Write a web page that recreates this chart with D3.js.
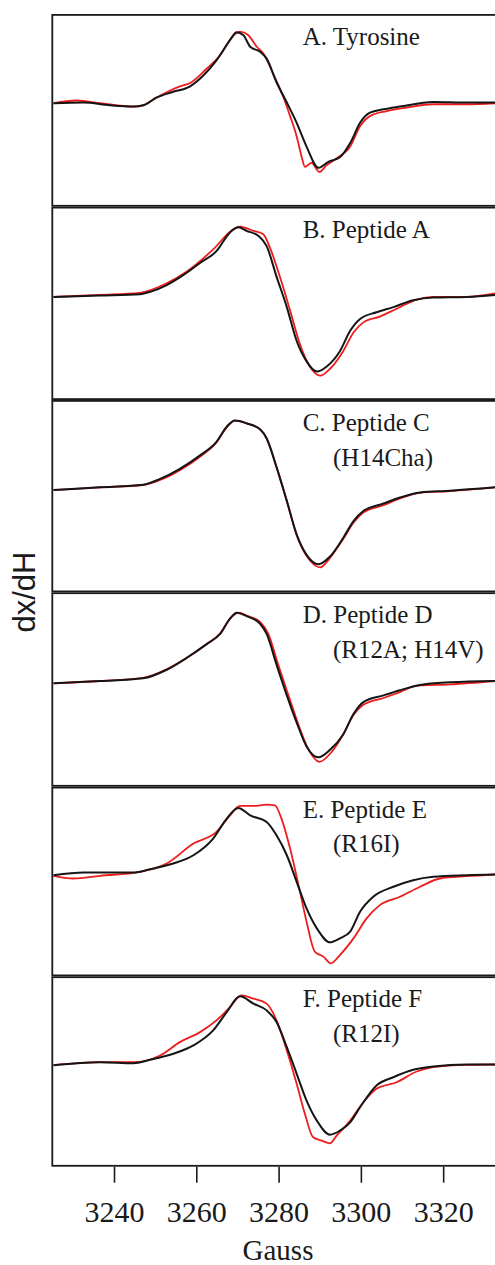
<!DOCTYPE html>
<html><head><meta charset="utf-8">
<script src="https://cdn.jsdelivr.net/npm/d3@7"></script>
<style>body{margin:0;background:#fff}</style>
</head><body><svg id="c" width="495" height="1265"></svg>
<script>
// ---- data ----
const xTicks = [3240, 3260, 3280, 3300, 3320];
const panelTitles = ["A. Tyrosine", "B. Peptide A", "C. Peptide C", "D. Peptide D", "E. Peptide E", "F. Peptide F"];
const panelSubtitles = ["", "", "(H14Cha)", "(R12A; H14V)", "(R16I)", "(R12I)"];
const xLabel = "Gauss";
const yLabel = "dx/dH";

// [Gauss, signal (a.u.)]
const tyrosineBlack = [[3225.3,0],[3232.6,0.7],[3239.0,-2],[3244.7,-3.3],[3247.1,-2],[3250.4,5.7],[3254.4,11.3],[3258.5,16.7],[3261.7,27.3],[3264.9,42.3],[3268.2,62.3],[3269.8,70],[3271.4,67.3],[3273.1,55.7],[3275.5,50.7],[3277.1,44],[3279.5,20.7],[3282.0,0.7],[3284.4,-19.3],[3286.8,-42.7],[3289.7,-63.7],[3292.1,-57.7],[3294.9,-53.3],[3297.4,-39.3],[3299.8,-19.3],[3302.2,-9.3],[3305.5,-6],[3309.5,-3.3],[3317.6,1.3],[3325.7,0.7],[3332.6,0.7]];
const tyrosineRed = [[3225.3,0],[3230.9,2.7],[3236.6,0],[3244.7,-3.3],[3247.1,-2],[3250.4,5.7],[3256.0,16.7],[3258.5,20],[3262.5,34],[3265.8,47.3],[3269.0,66.7],[3270.6,70.7],[3272.6,67.3],[3274.7,55.7],[3276.3,49],[3278.7,29],[3281.2,5.7],[3282.8,-12.7],[3284.4,-32.7],[3285.6,-52.7],[3286.4,-62.7],[3288.0,-58.7],[3289.9,-67.7],[3291.7,-61],[3294.1,-54.3],[3297.4,-42.7],[3299.8,-22.7],[3302.2,-12.7],[3306.3,-7.7],[3311.1,-4.3],[3317.6,-1],[3325.7,-1],[3332.6,0]];
const peptideABlack = [[3225.3,-0.7],[3236.6,0.7],[3246.3,2],[3248.8,4.3],[3252.8,11],[3256.9,21],[3260.9,32.7],[3264.9,44.3],[3268.2,62.7],[3270.2,67.7],[3272.2,64.3],[3275.1,59.3],[3277.1,49.3],[3279.5,19.3],[3282.0,-10.7],[3284.4,-44],[3286.8,-64],[3289.3,-74],[3291.7,-69],[3294.9,-54],[3297.4,-34],[3299.8,-22.3],[3303.8,-15.7],[3307.9,-10.7],[3312.7,-4],[3317.6,-1.3],[3325.7,-0.7],[3332.6,1.3]];
const peptideARed = [[3225.3,-0.7],[3236.6,1.3],[3246.3,3.3],[3252.8,12.7],[3257.7,24.3],[3264.1,46],[3269.0,65.7],[3270.6,68.3],[3273.9,64.3],[3276.3,61],[3277.9,47.7],[3280.3,19.3],[3282.8,-14],[3285.2,-47.3],[3287.6,-69],[3290.1,-78],[3292.5,-71.3],[3295.7,-54],[3298.2,-35.7],[3300.6,-25.7],[3304.6,-20],[3308.7,-12.3],[3313.6,-3.3],[3317.6,-0.7],[3325.7,-0.7],[3332.6,2.7]];
const peptideCBlack = [[3225.3,-1],[3236.6,1.7],[3247.1,4.3],[3251.2,10],[3256.0,20],[3260.9,33.3],[3264.9,46.7],[3267.4,61.7],[3269.4,67.7],[3272.2,65],[3275.5,59],[3277.1,50],[3279.5,21.7],[3282.0,-11.7],[3284.4,-45],[3286.8,-65],[3289.7,-74.3],[3292.5,-66.7],[3295.7,-48.3],[3298.2,-31.7],[3300.6,-21.7],[3305.5,-14.3],[3309.5,-8.3],[3314.4,-3.3],[3321.7,-1.7],[3332.6,1.7]];
const peptideCRed = [[3225.3,-1],[3236.6,1.7],[3247.1,4],[3251.2,9],[3256.0,18.7],[3260.9,32],[3264.9,46],[3267.4,61],[3269.4,67.7],[3272.2,65],[3275.5,59],[3277.1,50],[3279.5,21.7],[3282.0,-11.7],[3284.4,-45.5],[3286.8,-66],[3290.1,-77.3],[3292.5,-68],[3295.7,-49.3],[3298.2,-33.3],[3300.6,-23.3],[3305.5,-16],[3309.5,-9.3],[3314.4,-3.7],[3321.7,-2],[3332.6,1.7]];
const peptideDBlack = [[3225.3,-1],[3236.6,1.3],[3247.1,4],[3252.8,12.3],[3257.7,24],[3262.5,37.3],[3265.8,47.3],[3268.2,62.3],[3269.8,68],[3272.2,64.7],[3275.5,57.3],[3277.1,47.3],[3279.5,17.3],[3282.0,-12.7],[3284.4,-39.3],[3286.8,-62.7],[3289.7,-73.3],[3292.5,-66],[3295.7,-51],[3298.2,-31],[3300.6,-19.3],[3305.5,-12.7],[3309.5,-7.7],[3314.4,-2.7],[3321.7,0],[3332.6,1.3]];
const peptideDRed = [[3225.3,-1],[3236.6,1.3],[3247.1,4.3],[3252.8,12.7],[3257.7,24],[3262.5,37.3],[3265.8,48],[3268.2,62.3],[3270.2,68],[3272.6,64.7],[3275.5,59],[3277.5,47.3],[3279.9,17.3],[3282.4,-12.7],[3284.8,-41],[3287.2,-65],[3289.9,-77.7],[3292.9,-68],[3295.7,-51],[3298.2,-32],[3300.6,-22],[3305.5,-15.3],[3309.5,-9.5],[3313.6,-3.3],[3321.7,-2],[3332.6,1.3]];
const peptideEBlack = [[3225.3,-0.7],[3232.6,2],[3244.7,2],[3248.8,5.3],[3254.4,11],[3259.3,19.3],[3264.1,36],[3267.4,56],[3270.2,66.7],[3273.1,59.3],[3277.1,52.7],[3279.5,39.3],[3282.0,19.3],[3284.4,-7.3],[3286.8,-34],[3289.3,-54],[3292.5,-68],[3294.9,-64],[3297.4,-57.3],[3299.8,-37.3],[3303.0,-22.3],[3307.9,-12.3],[3312.7,-5.7],[3317.6,-2.3],[3325.7,-0.7],[3332.6,0]];
const peptideERed = [[3225.3,-1.3],[3230.1,-4],[3236.6,-1.3],[3246.3,2.7],[3252.8,11],[3259.3,31],[3264.9,42.7],[3268.2,59.3],[3270.6,68.7],[3273.9,68.7],[3277.1,70],[3279.1,69.3],[3280.7,56],[3282.8,26],[3285.2,-17.3],[3286.8,-47.3],[3288.8,-77.3],[3290.9,-82.3],[3292.7,-89],[3294.9,-80.7],[3298.2,-64],[3301.4,-44],[3304.6,-30.7],[3309.5,-22.3],[3314.4,-12.3],[3319.2,-4],[3325.7,-1.7],[3332.6,0]];
const peptideFBlack = [[3225.3,-0.7],[3236.6,2.3],[3244.7,1.3],[3248.8,4.7],[3254.4,10.7],[3259.3,19],[3264.1,34],[3267.4,52.3],[3270.6,68],[3273.9,60.7],[3277.1,54],[3279.5,42.3],[3282.0,17.3],[3284.4,-9.3],[3286.8,-36],[3289.3,-56],[3292.5,-70],[3294.9,-66],[3297.4,-57.7],[3299.8,-42.7],[3303.8,-21],[3307.9,-12.7],[3312.7,-5.3],[3317.6,-2],[3325.7,0],[3332.6,0]];
const peptideFRed = [[3225.3,-0.7],[3236.6,2.3],[3244.7,2.3],[3251.2,9],[3256.0,22.3],[3260.9,32.3],[3264.9,44],[3268.2,57.3],[3271.0,69],[3273.9,65.7],[3277.1,60.7],[3279.5,44],[3282.0,14],[3284.4,-19.3],[3286.4,-49.3],[3288.4,-72.7],[3290.5,-76],[3292.5,-78.7],[3294.1,-71],[3297.4,-56],[3300.6,-37.7],[3303.8,-24.3],[3308.7,-17.7],[3313.6,-7],[3317.6,-2.7],[3325.7,-0.3],[3332.6,0]];

const blackSeries = [tyrosineBlack, peptideABlack, peptideCBlack, peptideDBlack, peptideEBlack, peptideFBlack];
const redSeries = [tyrosineRed, peptideARed, peptideCRed, peptideDRed, peptideERed, peptideFRed];

// ---- layout ----
const W = 495, H = 1265;
const left = 52.3;
const bounds = [14, 206.7, 400, 592.3, 786.7, 976.3, 1166.7];
const serif = "'Liberation Serif','Times New Roman',serif";
const sans = "'Liberation Sans',Arial,sans-serif";

const svg = d3.select("#c");
const x = d3.scaleLinear().domain([3225, 3332.6]).range([left, W]);

const line = (y) => d3.line().x(d => x(d[0])).y(d => y(d[1])).curve(d3.curveMonotoneX);

for (let i = 0; i < 6; i++) {
  const top = bounds[i], bot = bounds[i + 1];
  const y = d3.scaleLinear().domain([-102, 88]).range([bot, top]);
  const g = svg.append("g");
  g.append("path").datum(redSeries[i]).attr("d", line(y))
    .attr("fill", "none").attr("stroke", "#ee1c1c").attr("stroke-width", 1.8).attr("stroke-linejoin", "round");
  g.append("path").datum(blackSeries[i]).attr("d", line(y))
    .attr("fill", "none").attr("stroke", "#151515").attr("stroke-width", 2).attr("stroke-linejoin", "round");
  g.append("rect").attr("x", left).attr("y", top + 0.9).attr("width", 520).attr("height", bot - top - 1.8)
    .attr("fill", "none").attr("stroke", "#1a1a1a").attr("stroke-width", 1.8);
  g.append("text").attr("x", 302.7).attr("y", top + 31).text(panelTitles[i])
    .attr("font-family", serif).attr("font-size", 25).attr("fill", "#1a1a1a");
  if (panelSubtitles[i]) {
    g.append("text").attr("x", 333).attr("y", top + 65.5).text(panelSubtitles[i])
      .attr("font-family", serif).attr("font-size", 25).attr("fill", "#1a1a1a");
  }
}

// x axis
const ax = svg.append("g").attr("transform", `translate(0,${bounds[6]})`)
  .call(d3.axisBottom(x).tickValues(xTicks).tickSize(16).tickPadding(18).tickFormat(d3.format("d")));
ax.select(".domain").remove();
ax.selectAll(".tick line").attr("stroke", "#1a1a1a").attr("stroke-width", 1.6);
ax.selectAll(".tick text").attr("font-family", serif).attr("font-size", 30).attr("fill", "#1a1a1a");

svg.append("text").attr("x", 278).attr("y", 1260).attr("text-anchor", "middle")
  .attr("font-family", serif).attr("font-size", 29).attr("fill", "#1a1a1a").text(xLabel);

svg.append("text").attr("transform", "translate(35,592) rotate(-90)").attr("text-anchor", "middle")
  .attr("font-family", sans).attr("font-size", 31).attr("fill", "#1a1a1a").text(yLabel);
</script>
</body></html>
